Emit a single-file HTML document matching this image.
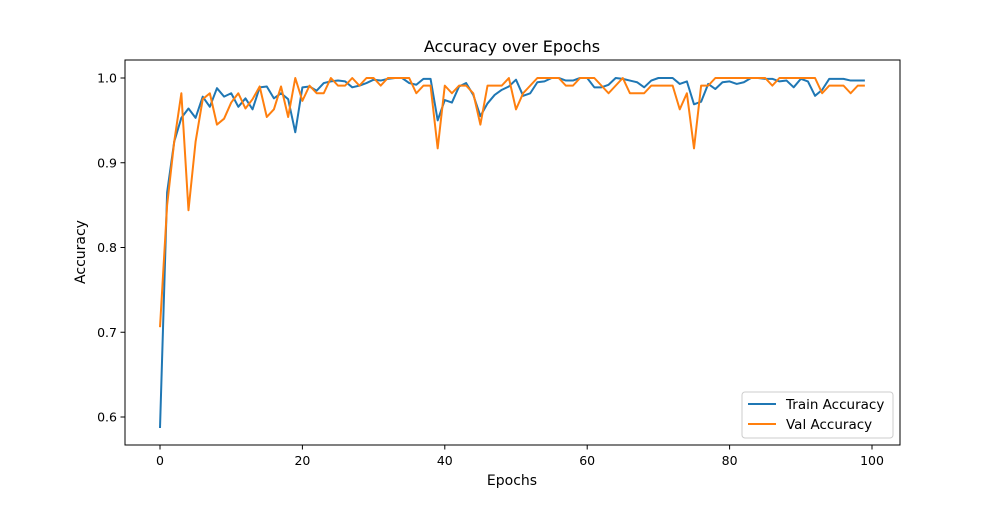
<!DOCTYPE html>
<html><head><meta charset="utf-8"><style>
body{margin:0;background:#fff;font-family:"Liberation Sans","DejaVu Sans",sans-serif}
svg text{font-family:"DejaVu Sans","Liberation Sans",sans-serif;fill:#000}
</style></head><body>
<svg id="chart" width="1000" height="500">
<rect width="1000" height="500" fill="#fff"/>
<g id="grid"></g>
<g id="lines"></g>
<rect x="125" y="60" width="775" height="385" fill="none" stroke="#000" stroke-width="1"/>
<g id="ticks"></g>
<text x="512" y="52" font-size="16" text-anchor="middle">Accuracy over Epochs</text>
<text x="512" y="485" font-size="14" text-anchor="middle">Epochs</text>
<text x="0" y="0" font-size="14" text-anchor="middle" transform="translate(85,252) rotate(-90)">Accuracy</text>
<g>
<rect x="742" y="392" width="151" height="46" rx="3" fill="#fff" stroke="#ccc"/>
<g><line x1="748" y1="404" x2="776" y2="404" stroke="#1f77b4" stroke-width="2"/><text x="786" y="409" font-size="13.5">Train Accuracy</text></g>
<g><line x1="748" y1="424" x2="776" y2="424" stroke="#ff7f0e" stroke-width="2"/><text x="786" y="429" font-size="13.5">Val Accuracy</text></g>
</g>
</svg>
<script>
const trainAcc=[0.587,0.865,0.925,0.953,0.964,0.953,0.978,0.966,0.988,0.978,0.982,0.966,0.976,0.963,0.989,0.990,0.976,0.982,0.975,0.936,0.989,0.990,0.985,0.994,0.996,0.997,0.996,0.989,0.991,0.994,0.998,0.997,0.999,1.0,1.0,0.994,0.992,0.999,0.999,0.950,0.974,0.971,0.990,0.994,0.980,0.955,0.970,0.980,0.986,0.990,0.998,0.979,0.982,0.995,0.996,1.0,1.0,0.997,0.997,1.0,1.0,0.989,0.989,0.992,1.0,0.999,0.997,0.995,0.989,0.997,1.0,1.0,1.0,0.993,0.996,0.969,0.972,0.993,0.987,0.995,0.996,0.993,0.995,1.0,1.0,0.999,0.999,0.996,0.997,0.989,0.999,0.996,0.979,0.986,0.999,0.999,0.999,0.997,0.997,0.997];
const valAcc=[0.706,0.850,0.925,0.982,0.844,0.925,0.975,0.982,0.945,0.952,0.971,0.982,0.964,0.975,0.990,0.954,0.963,0.990,0.954,1.0,0.973,0.991,0.982,0.982,1.0,0.991,0.991,1.0,0.991,1.0,1.0,0.991,1.0,1.0,1.0,1.0,0.982,0.991,0.991,0.917,0.991,0.982,0.991,0.991,0.982,0.945,0.991,0.991,0.991,1.0,0.963,0.982,0.991,1.0,1.0,1.0,1.0,0.991,0.991,1.0,1.0,1.0,0.991,0.982,0.991,1.0,0.982,0.982,0.982,0.991,0.991,0.991,0.991,0.963,0.982,0.917,0.991,0.991,1.0,1.0,1.0,1.0,1.0,1.0,1.0,1.0,0.991,1.0,1.0,1.0,1.0,1.0,1.0,0.982,0.991,0.991,0.991,0.982,0.991,0.991];
const xTicks=[0,20,40,60,80,100];
const yTicks=[0.6,0.7,0.8,0.9,1.0];
const yTickLabels=["0.6","0.7","0.8","0.9","1.0"];
const NS="http://www.w3.org/2000/svg";
const xs=v=>160+v*7.12;
const ys=v=>417-(v-0.6)/0.4*339;
const T=document.getElementById('ticks');
function mk(tag,at,parent){const e=document.createElementNS(NS,tag);for(const k in at)e.setAttribute(k,at[k]);parent.appendChild(e);return e;}
xTicks.forEach(t=>{
  const l=mk('line',{x1:xs(t),x2:xs(t),y1:445,y2:449.5,stroke:'#000'},T);
  
  
  const tx=mk('text',{x:xs(t),y:465,'font-size':12.5,'text-anchor':'middle'},T);tx.textContent=t;
  
  
});
yTicks.forEach((t,i)=>{
  const l=mk('line',{x1:120.5,x2:125,y1:ys(t),y2:ys(t),stroke:'#000'},T);
  
  
  const tx=mk('text',{x:117,y:ys(t)+4.5,'font-size':12.5,'text-anchor':'end'},T);tx.textContent=yTickLabels[i];
  
  
});
const L=document.getElementById('lines');
[[trainAcc,'#1f77b4','train-accuracy-line'],[valAcc,'#ff7f0e','val-accuracy-line']].forEach(([d,c,n])=>{
  const p=mk('polyline',{points:d.map((v,i)=>xs(i)+','+ys(v)).join(' '),fill:'none',stroke:c,'stroke-width':2,'stroke-linejoin':'round'},L);
  
  
});
</script>
</body></html>
